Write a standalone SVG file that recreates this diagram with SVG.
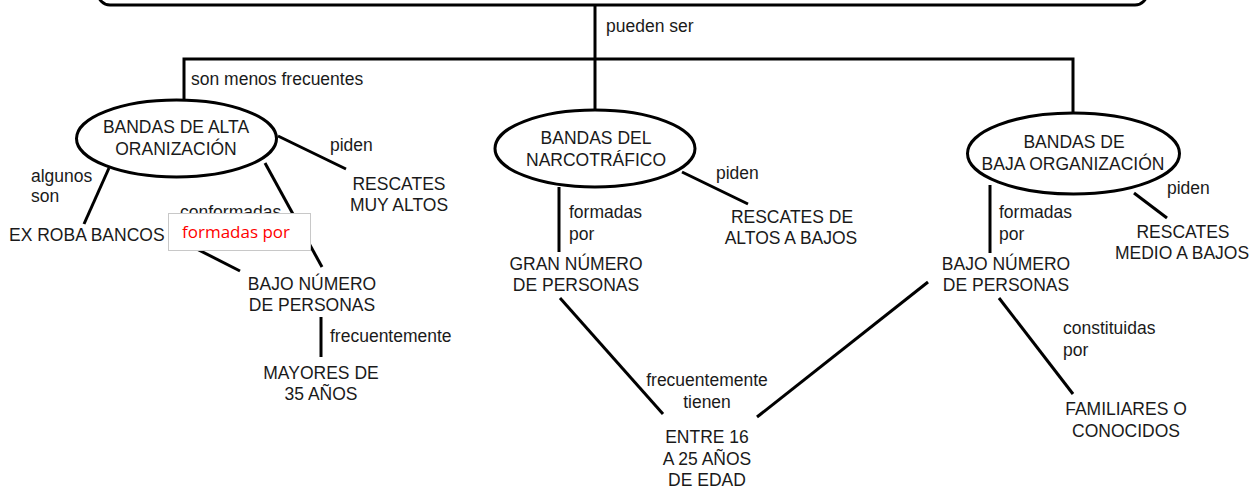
<svg xmlns="http://www.w3.org/2000/svg" width="1258" height="489" viewBox="0 0 1258 489">
<style>
.t{font-family:"Liberation Sans",Arial,sans-serif;font-size:17.5px;fill:#1a1a1a}
.m{text-anchor:middle}
.ln{stroke:#000;stroke-width:3;fill:none;stroke-linecap:butt}
.el{stroke:#000;stroke-width:3;fill:#fff}
</style>
<rect width="1258" height="489" fill="#fff"/>
<g id="top">
<rect x="98" y="-40" width="1049" height="45" rx="12" class="el"/>
</g>
<g id="connectors">
<line class="ln" x1="595" y1="5" x2="595" y2="110"/>
<polyline class="ln" points="184,100 184,59 1073,59 1073,113"/>
<line class="ln" x1="109" y1="168" x2="84" y2="224"/>
<line class="ln" x1="265" y1="163" x2="322" y2="267"/>
<line class="ln" x1="278" y1="136" x2="346" y2="169"/>
<line class="ln" x1="185" y1="243" x2="240" y2="271"/>
<line class="ln" x1="321" y1="317" x2="321" y2="357"/>
<line class="ln" x1="559" y1="187" x2="559" y2="252"/>
<line class="ln" x1="682" y1="172" x2="748" y2="204"/>
<line class="ln" x1="560" y1="298" x2="663" y2="414"/>
<line class="ln" x1="757" y1="417" x2="928" y2="282"/>
<line class="ln" x1="990" y1="185" x2="990" y2="253"/>
<line class="ln" x1="1134" y1="193" x2="1167" y2="218"/>
<line class="ln" x1="999" y1="298" x2="1073" y2="394"/>
<text class="t" x="606" y="32">pueden ser</text>
<text class="t" x="191" y="85">son menos frecuentes</text>
<text class="t" x="31" y="182">algunos</text>
<text class="t" x="31" y="202">son</text>
<text class="t" x="180" y="218">conformadas</text>
<text class="t" x="330" y="151">piden</text>
<text class="t" x="330" y="342">frecuentemente</text>
<text class="t" x="569" y="218">formadas</text>
<text class="t" x="569" y="240">por</text>
<text class="t" x="716" y="179">piden</text>
<text class="t m" x="707" y="386">frecuentemente</text>
<text class="t m" x="707" y="408">tienen</text>
<text class="t" x="999" y="218">formadas</text>
<text class="t" x="999" y="240">por</text>
<text class="t" x="1167" y="194">piden</text>
<text class="t" x="1063" y="334">constituidas</text>
<text class="t" x="1063" y="356">por</text>
</g>
<g id="n1">
<ellipse class="el" cx="176.5" cy="138.5" rx="100" ry="38.5"/>
<text class="t m" x="176" y="133">BANDAS DE ALTA</text>
<text class="t m" x="176" y="155">ORANIZACIÓN</text>
</g>
<g id="n2">
<ellipse class="el" cx="595" cy="148.5" rx="100" ry="38.5"/>
<text class="t m" x="596" y="144">BANDAS DEL</text>
<text class="t m" x="596" y="166">NARCOTRÁFICO</text>
</g>
<g id="n3">
<ellipse class="el" cx="1073.5" cy="153.5" rx="106" ry="40.5"/>
<text class="t m" x="1074" y="148">BANDAS DE</text>
<text class="t m" x="1073" y="170">BAJA ORGANIZACIÓN</text>
</g>
<g id="n4"><text class="t" x="9" y="241">EX ROBA BANCOS</text></g>
<g id="n5"><text class="t m" x="399" y="190">RESCATES</text><text class="t m" x="399" y="211">MUY ALTOS</text></g>
<g id="n6"><text class="t m" x="312" y="290">BAJO NÚMERO</text><text class="t m" x="312" y="311">DE PERSONAS</text></g>
<g id="n7"><text class="t m" x="321" y="379">MAYORES DE</text><text class="t m" x="321" y="400">35 AÑOS</text></g>
<g id="n8"><text class="t m" x="576" y="270">GRAN NÚMERO</text><text class="t m" x="576" y="291">DE PERSONAS</text></g>
<g id="n9"><text class="t m" x="792" y="223">RESCATES DE</text><text class="t m" x="791" y="244">ALTOS A BAJOS</text></g>
<g id="n10"><text class="t m" x="707" y="443">ENTRE 16</text><text class="t m" x="707" y="465">A 25 AÑOS</text><text class="t m" x="707" y="486">DE EDAD</text></g>
<g id="n11"><text class="t m" x="1006" y="270">BAJO NÚMERO</text><text class="t m" x="1006" y="291">DE PERSONAS</text></g>
<g id="n12"><text class="t m" x="1183" y="238">RESCATES</text><text class="t m" x="1182" y="259">MEDIO A BAJOS</text></g>
<g id="n13"><text class="t m" x="1126" y="415">FAMILIARES O</text><text class="t m" x="1126" y="437">CONOCIDOS</text></g>
<g id="note">
<rect x="168.5" y="213.5" width="142" height="37" fill="#fff" stroke="#c8c8c8" stroke-width="1"/>
<text x="182" y="238" style="font-family:'Open Sans','Liberation Sans',sans-serif;font-size:17px;fill:#ff0000">formadas por</text>
</g>
</svg>
